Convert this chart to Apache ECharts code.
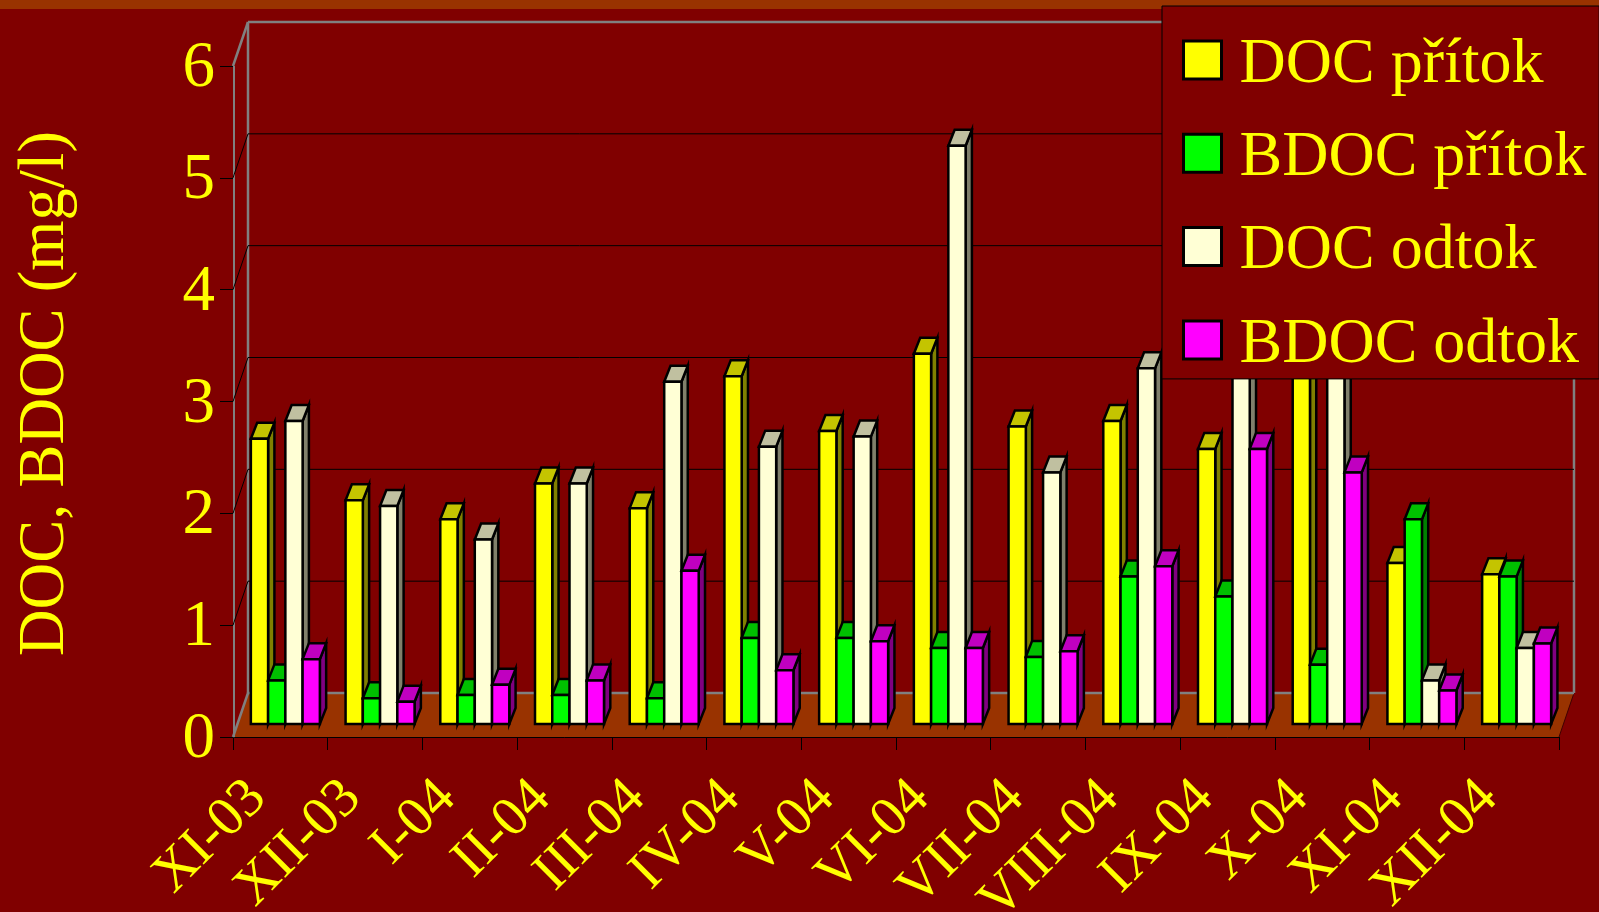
<!DOCTYPE html>
<html>
<head>
<meta charset="utf-8">
<title>DOC, BDOC</title>
<script src="https://cdn.jsdelivr.net/npm/echarts@6/dist/echarts.min.js"></script>
<style>
html, body { margin: 0; padding: 0; background: #800000; }
#chart { width: 1599px; height: 912px; }
</style>
</head>
<body>
<div id="chart"></div>
<script>
var months = ['XI-03', 'XII-03', 'I-04', 'II-04', 'III-04', 'IV-04', 'V-04', 'VI-04', 'VII-04', 'VIII-04', 'IX-04', 'X-04', 'XI-04', 'XII-04'];
var yTicks = [0, 1, 2, 3, 4, 5, 6];

// values behind the legend box (IX-04, X-04) are estimates
var docPritok  = [2.55, 2.00, 1.83, 2.15, 1.93, 3.11, 2.62, 3.31, 2.66, 2.71, 2.46, 3.40, 1.44, 1.34];
var bdocPritok = [0.39, 0.23, 0.26, 0.26, 0.23, 0.77, 0.77, 0.68, 0.60, 1.32, 1.14, 0.53, 1.83, 1.32];
var docOdtok   = [2.71, 1.95, 1.65, 2.15, 3.06, 2.48, 2.57, 5.17, 2.25, 3.18, 3.40, 3.30, 0.39, 0.68];
var bdocOdtok  = [0.58, 0.20, 0.35, 0.39, 1.37, 0.48, 0.74, 0.68, 0.65, 1.41, 2.46, 2.25, 0.30, 0.72];

var FONT = '"Liberation Serif", "Times New Roman", serif';

// depth of the fake 3d box
var wallDx = 15, wallDy = 44;
var barDx = 6.3, barDy = 16;
var barShiftX = 5, barShiftY = 13;
var groupW = 69;

function frameItem(params, api) {
	var cs = params.coordSys;
	var v = api.value(0);
	var p = api.coord([0, v]);
	var x0 = cs.x, x1 = cs.x + cs.width;
	var kids = [];
	var grey = { stroke: '#808080', lineWidth: 2.5 };
	var black = { stroke: '#000', lineWidth: 1 };
	if (v === 0) {
		kids.push({ type: 'polygon', shape: { points: [[x0, p[1]], [x1, p[1]], [x1 + wallDx, p[1] - wallDy], [x0 + wallDx, p[1] - wallDy]] }, style: { fill: '#993300', stroke: null } });
		kids.push({ type: 'line', shape: { x1: x1, y1: p[1], x2: x1 + wallDx, y2: p[1] - wallDy }, style: { stroke: '#400000', lineWidth: 1 } });
		kids.push({ type: 'line', shape: { x1: x0 + wallDx, y1: p[1] - wallDy, x2: x0 + wallDx, y2: cs.y - wallDy }, style: grey });
		kids.push({ type: 'line', shape: { x1: x1 + wallDx, y1: p[1] - wallDy, x2: x1 + wallDx, y2: cs.y - wallDy }, style: grey });
		kids.push({ type: 'line', shape: { x1: x0 + 1, y1: p[1], x2: x0 + 1, y2: cs.y }, style: { stroke: '#808080', lineWidth: 2 } });
	}
	var edge = (v === 0 || v === 6) ? grey : black;
	kids.push({ type: 'line', shape: { x1: x0, y1: p[1], x2: x0 + wallDx, y2: p[1] - wallDy }, style: edge });
	kids.push({ type: 'line', shape: { x1: x0 + wallDx, y1: p[1] - wallDy, x2: x1 + wallDx, y2: p[1] - wallDy }, style: edge });
	return { type: 'group', children: kids };
}

function barSeries(name, values, front, top, side, pos) {
	return {
		name: name,
		type: 'custom',
		itemStyle: { color: front },
		clip: false,
		z: 3,
		encode: { x: 0, y: 1 },
		data: values.map(function (v, i) { return [i, v]; }),
		renderItem: function (params, api) {
			var p = api.coord([api.value(0), api.value(1)]);
			var b = api.coord([api.value(0), 0]);
			var w = groupW / 4;
			var x = p[0] + barShiftX - groupW / 2 + pos * w;
			var y = p[1] - barShiftY;
			var y0 = b[1] - barShiftY;
			var line = { stroke: '#000', lineWidth: 2.5, lineJoin: 'miter' };
			return {
				type: 'group',
				children: [
					{ type: 'polygon', shape: { points: [[x + w, y], [x + w + barDx, y - barDy], [x + w + barDx, y0 - barDy], [x + w, y0]] }, style: Object.assign({ fill: side }, line) },
					{ type: 'polygon', shape: { points: [[x, y], [x + w, y], [x + w + barDx, y - barDy], [x + barDx, y - barDy]] }, style: Object.assign({ fill: top }, line) },
					{ type: 'rect', shape: { x: x, y: y, width: w, height: y0 - y }, style: Object.assign({ fill: front }, line) }
				]
			};
		}
	};
}

var chart = echarts.init(document.getElementById('chart'), null, { renderer: 'canvas' });

chart.setOption({
	animation: false,
	backgroundColor: '#800000',
	textStyle: { fontFamily: FONT },
	graphic: [{ type: 'rect', left: 0, top: 0, z: -1, shape: { width: 1599, height: 9 }, style: { fill: '#993300' } }],
	grid: { left: 233, top: 66, width: 1326, height: 671, outerBoundsMode: 'none' },
	legend: {
		left: 1162,
		top: 6,
		orient: 'vertical',
		data: ['DOC přítok', 'BDOC přítok', 'DOC odtok', 'BDOC odtok'],
		icon: 'rect',
		itemWidth: 38,
		itemHeight: 38,
		itemGap: 19.3,
		padding: [17, 13, 2, 20],
		backgroundColor: '#800000',
		borderColor: '#000',
		borderWidth: 1,
		borderRadius: 0,
		selectedMode: false,
		itemStyle: { borderColor: '#000', borderWidth: 3 },
		formatter: '{a|{name}}',
		textStyle: {
			color: '#FFFF00', fontFamily: FONT, fontSize: 64,
			rich: { a: { color: '#FFFF00', fontFamily: FONT, fontSize: 64, lineHeight: 74, padding: [10, 0, 0, 13] } }
		}
	},
	xAxis: {
		type: 'category',
		data: months,
		axisLine: { lineStyle: { color: '#000', width: 1 } },
		axisTick: { show: true, length: 13, lineStyle: { color: '#000' } },
		axisLabel: { color: '#FFFF00', fontFamily: FONT, fontSize: 56, rotate: 45, margin: 30, interval: 0, padding: [0, 32, 0, 0] },
		splitLine: { show: false }
	},
	yAxis: {
		type: 'value',
		min: 0,
		max: 6,
		interval: 1,
		name: 'DOC, BDOC (mg/l)',
		nameLocation: 'middle',
		nameRotate: 90,
		nameGap: 140,
		nameTextStyle: { color: '#FFFF00', fontFamily: FONT, fontSize: 64.5, padding: [0, 0, 14, 16] },
		axisLine: { show: true, lineStyle: { color: '#000', width: 1 } },
		axisTick: { show: true, length: 13, lineStyle: { color: '#000' } },
		axisLabel: {
			margin: 18,
			formatter: '{a|{value}}',
			rich: { a: { color: '#FFFF00', fontFamily: FONT, fontSize: 65, lineHeight: 70, padding: [6, 0, 0, 0] } }
		},
		splitLine: { show: false }
	},
	series: [
		{ type: 'custom', name: 'frame', z: 1, clip: false, silent: true, encode: { y: 0 }, data: yTicks.map(function (t) { return [t]; }), renderItem: frameItem },
		barSeries('DOC přítok', docPritok, '#FFFF00', '#C4C400', '#808000', 0),
		barSeries('BDOC přítok', bdocPritok, '#00FF00', '#00C000', '#008000', 1),
		barSeries('DOC odtok', docOdtok, '#FFFFD5', '#C0C0A0', '#80806B', 2),
		barSeries('BDOC odtok', bdocOdtok, '#FF00FF', '#C000C0', '#800080', 3)
	]
});
</script>
</body>
</html>
